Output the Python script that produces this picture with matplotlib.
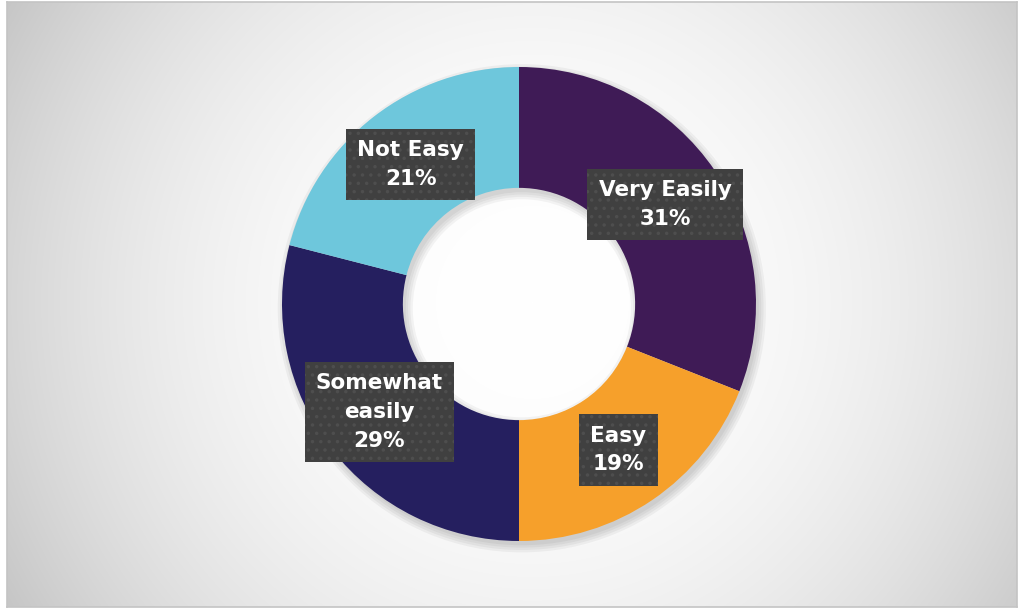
import numpy as np
import matplotlib.pyplot as plt

labels = ["Very Easily", "Easy", "Somewhat\neasily", "Not Easy"]
shares = [31, 19, 29, 21]
colors = ["#3f1b56", "#f6a02b", "#251f5f", "#6ec7dc"]

plt.rcParams["hatch.linewidth"] = 1.3

fig = plt.figure(figsize=(10.19, 6.11), dpi=100)
fig.patch.set_facecolor("white")

# framed background with a soft radial gradient
bg = fig.add_axes([7 / 1019, 4 / 611, 1010 / 1019, 605 / 611])
yy, xx = np.mgrid[0:605, 0:1010]
d = np.sqrt(((xx - 525) / 520.0) ** 2 + ((yy - 300) / 520.0) ** 2)
shade = 1.0 - 0.16 * d ** 2.2
shade = np.clip(shade, 0.77, 1.0)
bg.imshow(np.dstack([shade] * 3), aspect="auto", extent=(0, 1, 0, 1))
bg.set_xlim(0, 1)
bg.set_ylim(0, 1)
for s in bg.spines.values():
    s.set_color("#c4c4c4")
    s.set_linewidth(1.2)
bg.set_xticks([])
bg.set_yticks([])

ax = fig.add_axes([282 / 1019, 70 / 611, 474 / 1019, 474 / 611])

# soft drop shadow under the ring
for k in range(4):
    ax.pie([1], radius=1.0 + 0.01 * k, center=(0.012, -0.018), colors=["#000000"],
           wedgeprops=dict(width=0.51 + 0.02 * k, alpha=0.045, linewidth=0))

wedges, _ = ax.pie(shares, colors=colors, startangle=90, counterclock=False,
                   wedgeprops=dict(width=0.51, linewidth=0))

r_mid = 1 - 0.51 / 2
for w, lab, val in zip(wedges, labels, shares):
    ang = np.deg2rad((w.theta1 + w.theta2) / 2)
    ax.text(r_mid * np.cos(ang), r_mid * np.sin(ang), f"{lab}\n{val}%",
            ha="center", va="center", color="white", fontsize=15.5,
            fontweight="bold", family="DejaVu Sans", linespacing=1.55,
            bbox=dict(boxstyle="square,pad=0.52", facecolor="#404040",
                      edgecolor="#4e4e4e", linewidth=0, hatch=".."))

ax.set_xlim(-1, 1)
ax.set_ylim(-1, 1)
ax.set_aspect("equal")
ax.axis("off")

fig.savefig("out.png", dpi=100)
